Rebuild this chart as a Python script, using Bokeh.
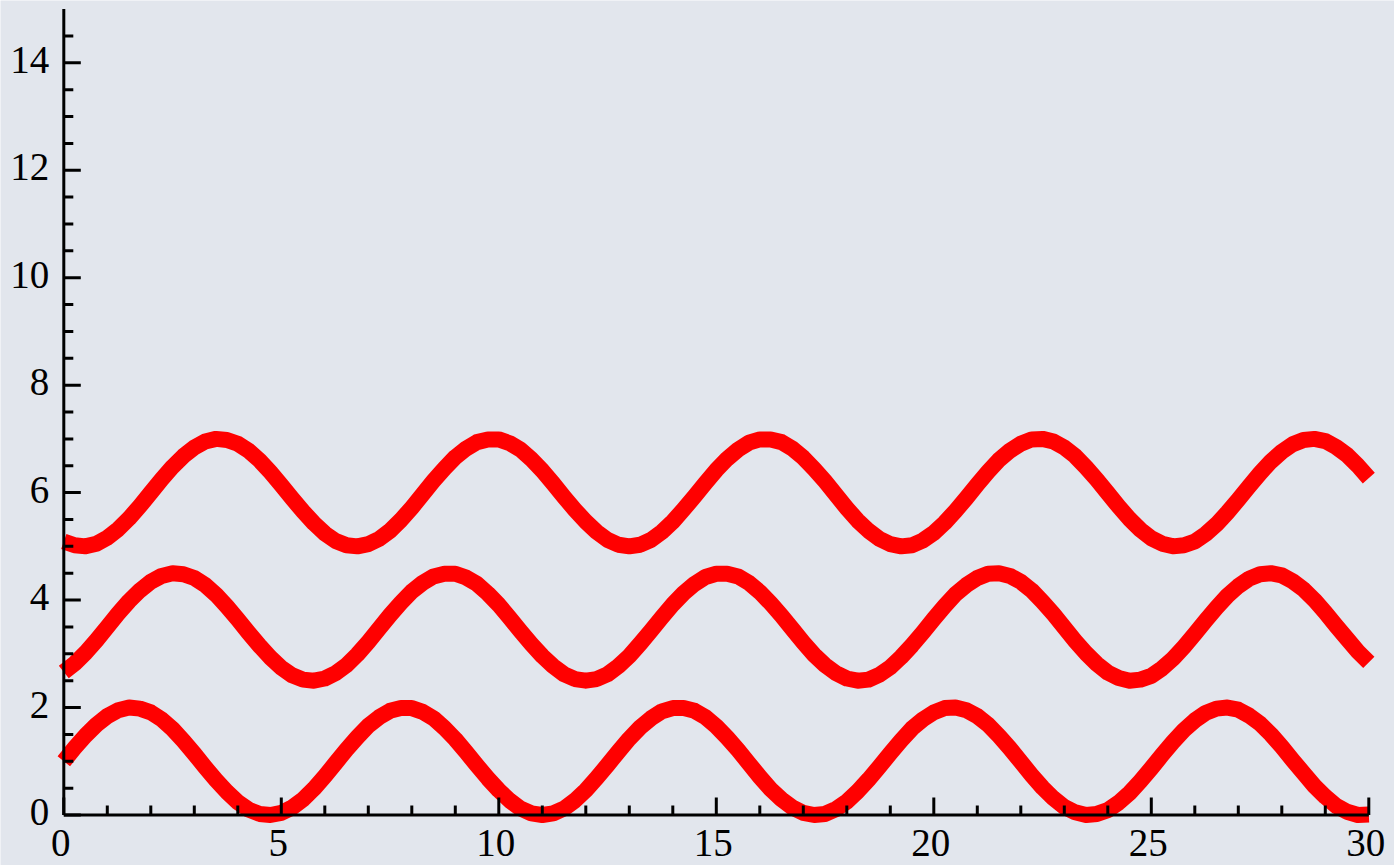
from bokeh.plotting import figure
from bokeh.embed import file_html
from bokeh.resources import INLINE
from bokeh.core.properties import value

# Sample positions along x (every quarter unit)
x = [0.00, 0.25, 0.50, 0.75, 1.00, 1.25, 1.50, 1.75, 2.00, 2.25, 2.50, 2.75,
     3.00, 3.25, 3.50, 3.75, 4.00, 4.25, 4.50, 4.75, 5.00, 5.25, 5.50, 5.75,
     6.00, 6.25, 6.50, 6.75, 7.00, 7.25, 7.50, 7.75, 8.00, 8.25, 8.50, 8.75,
     9.00, 9.25, 9.50, 9.75, 10.00, 10.25, 10.50, 10.75, 11.00, 11.25, 11.50, 11.75,
     12.00, 12.25, 12.50, 12.75, 13.00, 13.25, 13.50, 13.75, 14.00, 14.25, 14.50, 14.75,
     15.00, 15.25, 15.50, 15.75, 16.00, 16.25, 16.50, 16.75, 17.00, 17.25, 17.50, 17.75,
     18.00, 18.25, 18.50, 18.75, 19.00, 19.25, 19.50, 19.75, 20.00, 20.25, 20.50, 20.75,
     21.00, 21.25, 21.50, 21.75, 22.00, 22.25, 22.50, 22.75, 23.00, 23.25, 23.50, 23.75,
     24.00, 24.25, 24.50, 24.75, 25.00, 25.25, 25.50, 25.75, 26.00, 26.25, 26.50, 26.75,
     27.00, 27.25, 27.50, 27.75, 28.00, 28.25, 28.50, 28.75, 29.00, 29.25, 29.50, 29.75,
     30.00]

# Lower wave (between 0 and 2)
wave_low = [1.00, 1.25, 1.48, 1.68, 1.84, 1.95, 2.00, 1.98, 1.91, 1.78, 1.60, 1.38,
            1.14, 0.89, 0.65, 0.43, 0.24, 0.10, 0.02, 0.00, 0.04, 0.14, 0.29, 0.49,
            0.72, 0.97, 1.22, 1.45, 1.66, 1.82, 1.94, 1.99, 1.99, 1.92, 1.80, 1.62,
            1.41, 1.17, 0.92, 0.68, 0.46, 0.27, 0.12, 0.03, 0.00, 0.03, 0.12, 0.27,
            0.46, 0.69, 0.93, 1.18, 1.42, 1.63, 1.80, 1.93, 1.99, 1.99, 1.94, 1.82,
            1.65, 1.44, 1.21, 0.96, 0.71, 0.48, 0.29, 0.14, 0.04, 0.00, 0.02, 0.11,
            0.25, 0.44, 0.66, 0.90, 1.15, 1.39, 1.61, 1.78, 1.91, 1.99, 2.00, 1.95,
            1.84, 1.68, 1.47, 1.24, 0.99, 0.74, 0.51, 0.31, 0.15, 0.05, 0.00, 0.02,
            0.09, 0.23, 0.41, 0.63, 0.87, 1.12, 1.36, 1.58, 1.76, 1.90, 1.98, 2.00,
            1.96, 1.85, 1.70, 1.50, 1.27, 1.02, 0.78, 0.54, 0.34, 0.17, 0.06, 0.00,
            0.01]

# Middle wave (between 2.5 and 4.5)
wave_mid = [2.66, 2.82, 3.02, 3.25, 3.50, 3.75, 3.98, 4.18, 4.34, 4.45, 4.50, 4.48,
            4.41, 4.28, 4.10, 3.88, 3.64, 3.39, 3.15, 2.93, 2.74, 2.60, 2.52, 2.50,
            2.54, 2.64, 2.79, 2.99, 3.22, 3.47, 3.72, 3.95, 4.16, 4.32, 4.44, 4.49,
            4.49, 4.42, 4.30, 4.12, 3.91, 3.67, 3.42, 3.18, 2.96, 2.77, 2.62, 2.53,
            2.50, 2.53, 2.62, 2.77, 2.96, 3.19, 3.43, 3.68, 3.92, 4.13, 4.30, 4.43,
            4.49, 4.49, 4.44, 4.32, 4.15, 3.94, 3.71, 3.46, 3.21, 2.98, 2.79, 2.64,
            2.54, 2.50, 2.52, 2.61, 2.75, 2.94, 3.16, 3.40, 3.65, 3.89, 4.11, 4.28,
            4.41, 4.49, 4.50, 4.45, 4.34, 4.18, 3.97, 3.74, 3.49, 3.24, 3.01, 2.81,
            2.65, 2.55, 2.50, 2.52, 2.59, 2.73, 2.91, 3.13, 3.37, 3.62, 3.86, 4.08,
            4.26, 4.40, 4.48, 4.50, 4.46, 4.35, 4.20, 4.00, 3.77, 3.52, 3.28, 3.04,
            2.84]

# Upper wave (between 5 and 7)
wave_high = [5.09, 5.02, 5.00, 5.05, 5.16, 5.32, 5.52, 5.75, 6.00, 6.25, 6.48, 6.68,
             6.84, 6.95, 7.00, 6.98, 6.91, 6.78, 6.60, 6.38, 6.14, 5.89, 5.65, 5.43,
             5.24, 5.10, 5.02, 5.00, 5.04, 5.14, 5.29, 5.49, 5.72, 5.97, 6.22, 6.45,
             6.66, 6.82, 6.94, 6.99, 6.99, 6.92, 6.80, 6.62, 6.41, 6.17, 5.92, 5.68,
             5.46, 5.27, 5.12, 5.03, 5.00, 5.03, 5.12, 5.27, 5.46, 5.69, 5.93, 6.18,
             6.42, 6.63, 6.80, 6.93, 6.99, 6.99, 6.94, 6.82, 6.65, 6.44, 6.21, 5.96,
             5.71, 5.48, 5.29, 5.14, 5.04, 5.00, 5.02, 5.11, 5.25, 5.44, 5.66, 5.90,
             6.15, 6.39, 6.61, 6.78, 6.91, 6.99, 7.00, 6.95, 6.84, 6.68, 6.47, 6.24,
             5.99, 5.74, 5.51, 5.31, 5.15, 5.05, 5.00, 5.02, 5.09, 5.23, 5.41, 5.63,
             5.87, 6.12, 6.36, 6.58, 6.76, 6.90, 6.98, 7.00, 6.96, 6.85, 6.70, 6.50,
             6.27]

# Axis ticks and labels
x_major = [0, 5, 10, 15, 20, 25, 30]
x_minor = [1, 2, 3, 4, 6, 7, 8, 9, 11, 12, 13, 14, 16, 17, 18, 19,
           21, 22, 23, 24, 26, 27, 28, 29]
x_labels = ["0", "5", "10", "15", "20", "25", "30"]
y_major = [0, 2, 4, 6, 8, 10, 12, 14]
y_minor = [0.5, 1, 1.5, 2.5, 3, 3.5, 4.5, 5, 5.5, 6.5, 7, 7.5, 8.5, 9, 9.5,
           10.5, 11, 11.5, 12.5, 13, 13.5, 14.5]
y_labels = ["0", "2", "4", "6", "8", "10", "12", "14"]
x_max = 30
y_max = 15

W, H = 1394, 865
BG = "#e2e6ed"
FONT = value("Liberation Serif")

# pixel scale of the data space
SX = 43.5    # px per x unit
SY = 53.73   # px per y unit
X0_PX = 63.3
Y0_PX = 814.5

x_start = -X0_PX / SX
x_end = (W - X0_PX) / SX
y_start = -(H - Y0_PX) / SY
y_end = Y0_PX / SY

p = figure(width=W, height=H, x_range=(x_start, x_end), y_range=(y_start, y_end),
           output_backend="svg", toolbar_location=None,
           x_axis_type=None, y_axis_type=None, min_border=0)
p.grid.visible = False
p.outline_line_color = None
p.background_fill_color = BG
p.border_fill_color = BG

# the three waves
for ys in (wave_low, wave_mid, wave_high):
    p.line(x, ys, line_color="#ff0000", line_width=16,
           line_join="round", line_cap="butt")

AXIS_W = 3
# axis lines
p.segment(x0=[0], y0=[0], x1=[x_max], y1=[0], line_color="black", line_width=AXIS_W)
p.segment(x0=[0], y0=[0], x1=[0], y1=[y_max], line_color="black", line_width=AXIS_W)

# inward ticks on the x axis
maj_x = 17.5 / SY
min_x = 9.5 / SY
p.segment(x0=x_major, y0=[0] * len(x_major), x1=x_major, y1=[maj_x] * len(x_major),
          line_color="black", line_width=AXIS_W)
p.segment(x0=x_minor, y0=[0] * len(x_minor), x1=x_minor, y1=[min_x] * len(x_minor),
          line_color="black", line_width=AXIS_W)

# inward ticks on the y axis
maj_y = 17.0 / SX
min_y = 9.5 / SX
p.segment(x0=[0] * len(y_major), y0=y_major, x1=[maj_y] * len(y_major), y1=y_major,
          line_color="black", line_width=AXIS_W)
p.segment(x0=[0] * len(y_minor), y0=y_minor, x1=[min_y] * len(y_minor), y1=y_minor,
          line_color="black", line_width=AXIS_W)

# tick labels
p.text(x=x_major, y=[-27.5 / SY] * len(x_major), text=x_labels,
       text_font=FONT, text_font_size="39px", text_color="black",
       text_align="center", text_baseline="middle", x_offset=-3)
p.text(x=[-14.5 / SX] * len(y_major), y=y_major, text=y_labels,
       text_font=FONT, text_font_size="39px", text_color="black",
       text_align="right", text_baseline="middle", y_offset=-3)

open("out.html", "w").write(file_html(p, INLINE))
